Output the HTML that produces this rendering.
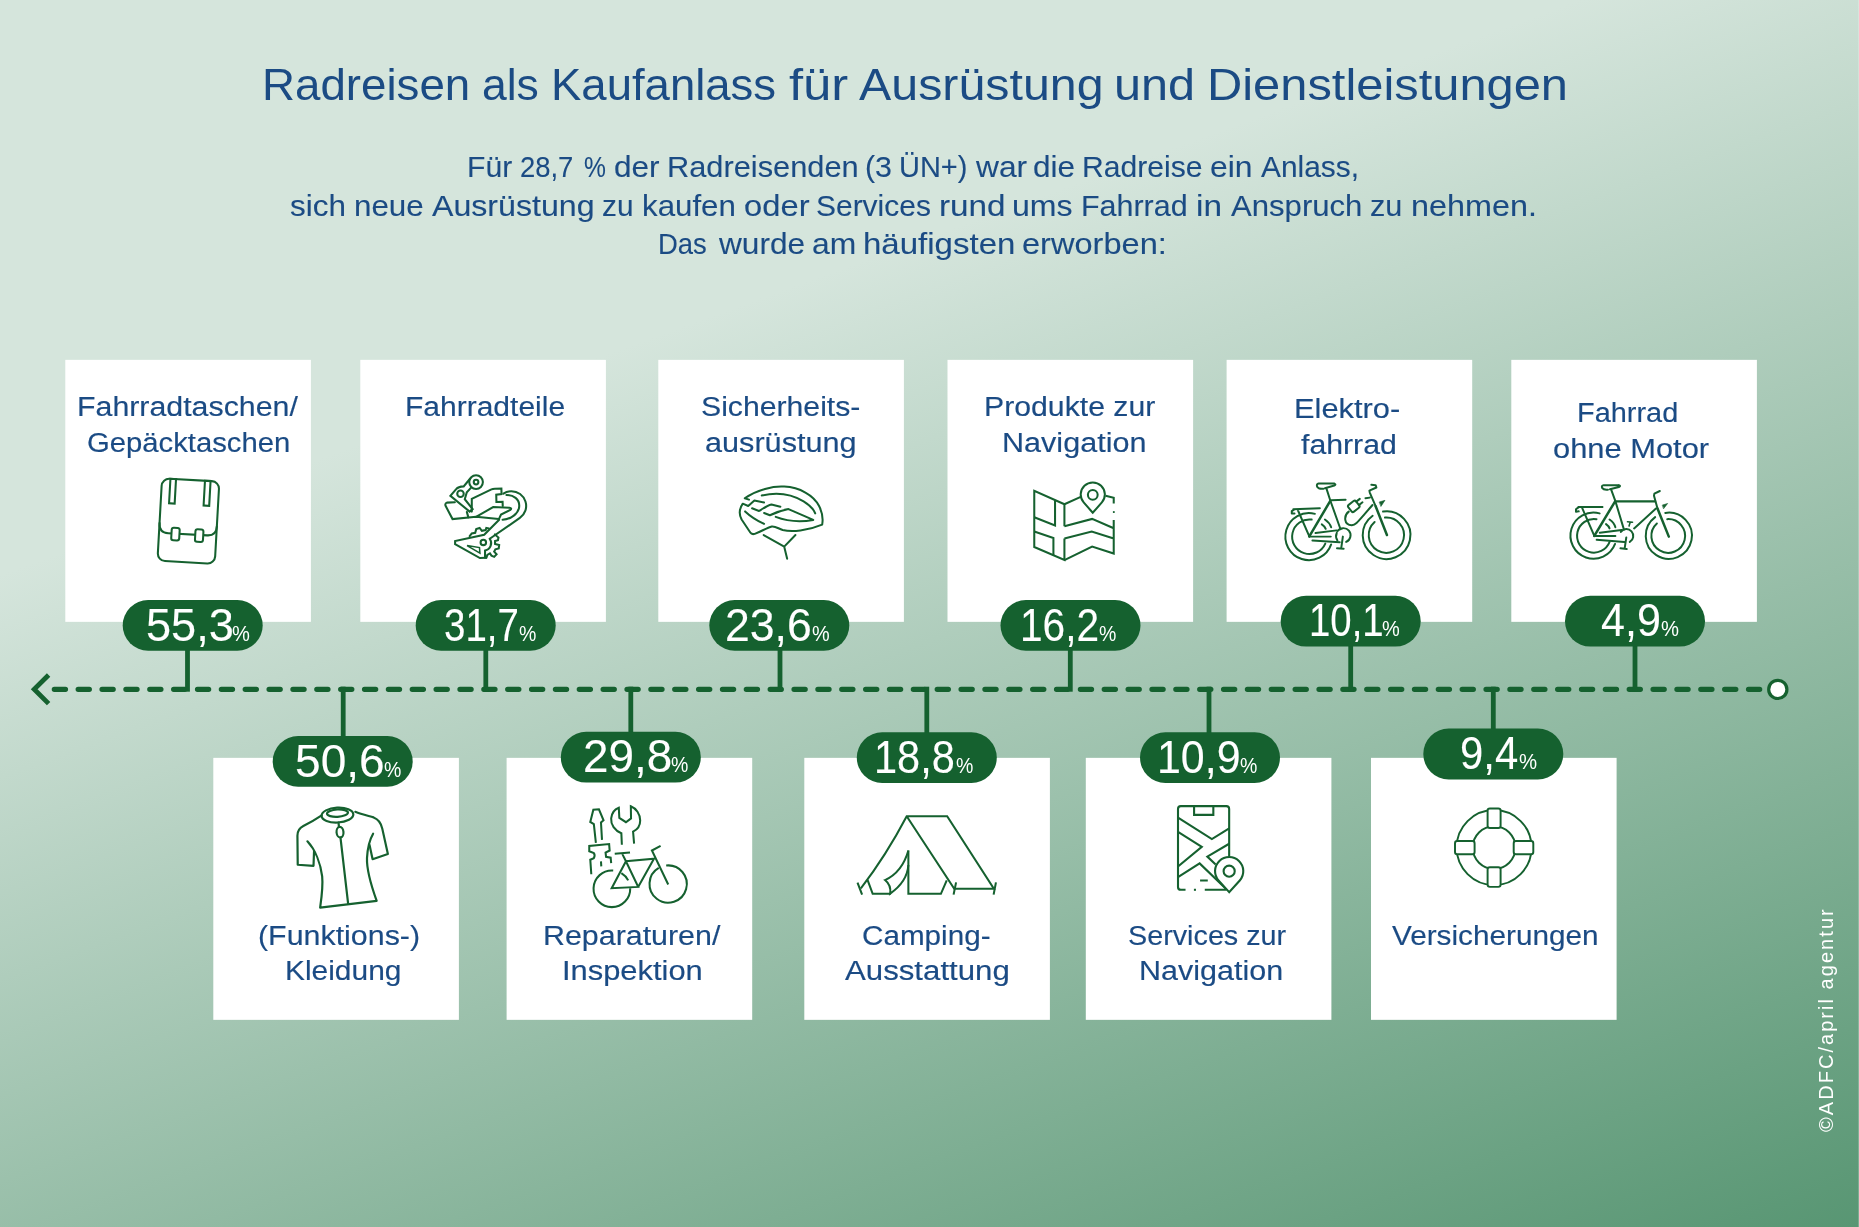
<!DOCTYPE html>
<html lang="de"><head><meta charset="utf-8"><title>Radreisen als Kaufanlass</title>
<style>
html,body{margin:0;padding:0}
body{width:1859px;height:1227px;overflow:hidden;position:relative;font-family:"Liberation Sans",sans-serif;background:#a9c8b7}
#bg{position:absolute;left:0;top:0;width:1859px;height:1227px;background:linear-gradient(160deg,#d5e5dc 0%,#d5e5dc 30.2%,#589673 100%)}
#w{position:absolute;left:0;top:0;width:1859px;height:1227px;will-change:transform}
.t{position:absolute;white-space:nowrap;line-height:1;transform-origin:0 0}
.c{position:absolute;background:#fff}
.ov{position:absolute;left:0;top:0}
.b{position:absolute;width:140px;height:51px;border-radius:25.5px;background:#15612f;color:#fff;text-align:center;white-space:nowrap;line-height:51px;box-sizing:border-box;padding-left:10px}
.b .n{font-size:44px;letter-spacing:-0.5px;position:relative;top:1px}
.b .p{font-size:19px;position:relative;top:1px;margin-left:1px}
.cr{position:absolute;transform-origin:0 0;transform:rotate(-90deg);color:#fff;white-space:nowrap;line-height:1}
.rs{position:absolute;left:1858px;top:0;width:1px;height:1227px;background:rgba(255,255,255,.22)}
</style></head>
<body>
<div id="bg"></div>
<div id="w">
<div class="t" style="left:262.24px;top:63.00px;font-size:44px;transform:scaleX(1.0384);color:#1b4b84;">Radreisen</div>
<div class="t" style="left:481.52px;top:63.00px;font-size:44px;transform:scaleX(1.0109);color:#1b4b84;">als</div>
<div class="t" style="left:550.96px;top:63.00px;font-size:44px;transform:scaleX(1.0341);color:#1b4b84;">Kaufanlass</div>
<div class="t" style="left:789.04px;top:63.00px;font-size:44px;transform:scaleX(1.1534);color:#1b4b84;">für</div>
<div class="t" style="left:859.30px;top:63.00px;font-size:44px;transform:scaleX(1.0988);color:#1b4b84;">Ausrüstung</div>
<div class="t" style="left:1114.44px;top:63.00px;font-size:44px;transform:scaleX(1.1045);color:#1b4b84;">und</div>
<div class="t" style="left:1207.19px;top:63.00px;font-size:44px;transform:scaleX(1.1097);color:#1b4b84;">Dienstleistungen</div>
<div class="t" style="left:466.99px;top:153.00px;font-size:29px;transform:scaleX(1.0394);color:#1b4b84;-webkit-text-stroke:0.1px #1b4b84;">Für</div>
<div class="t" style="left:520.33px;top:153.00px;font-size:29px;transform:scaleX(0.9457);color:#1b4b84;-webkit-text-stroke:0.1px #1b4b84;">28,7</div>
<div class="t" style="left:584.14px;top:153.00px;font-size:29px;transform:scaleX(0.8495);color:#1b4b84;-webkit-text-stroke:0.1px #1b4b84;">%</div>
<div class="t" style="left:614.04px;top:153.00px;font-size:29px;transform:scaleX(1.0880);color:#1b4b84;-webkit-text-stroke:0.1px #1b4b84;">der</div>
<div class="t" style="left:667.24px;top:153.00px;font-size:29px;transform:scaleX(1.0611);color:#1b4b84;-webkit-text-stroke:0.1px #1b4b84;">Radreisenden</div>
<div class="t" style="left:865.08px;top:153.00px;font-size:29px;transform:scaleX(1.0476);color:#1b4b84;-webkit-text-stroke:0.1px #1b4b84;">(3</div>
<div class="t" style="left:898.83px;top:153.00px;font-size:29px;transform:scaleX(0.9996);color:#1b4b84;-webkit-text-stroke:0.1px #1b4b84;">ÜN+)</div>
<div class="t" style="left:975.60px;top:153.00px;font-size:29px;transform:scaleX(1.0939);color:#1b4b84;-webkit-text-stroke:0.1px #1b4b84;">war</div>
<div class="t" style="left:1033.04px;top:153.00px;font-size:29px;transform:scaleX(1.0869);color:#1b4b84;-webkit-text-stroke:0.1px #1b4b84;">die</div>
<div class="t" style="left:1081.89px;top:153.00px;font-size:29px;transform:scaleX(1.0385);color:#1b4b84;-webkit-text-stroke:0.1px #1b4b84;">Radreise</div>
<div class="t" style="left:1209.83px;top:153.00px;font-size:29px;transform:scaleX(1.0990);color:#1b4b84;-webkit-text-stroke:0.1px #1b4b84;">ein</div>
<div class="t" style="left:1261.20px;top:153.00px;font-size:29px;transform:scaleX(1.0302);color:#1b4b84;-webkit-text-stroke:0.1px #1b4b84;">Anlass,</div>
<div class="t" style="left:290.26px;top:192.00px;font-size:29px;transform:scaleX(1.0837);color:#1b4b84;-webkit-text-stroke:0.1px #1b4b84;">sich</div>
<div class="t" style="left:353.56px;top:192.00px;font-size:29px;transform:scaleX(1.0809);color:#1b4b84;-webkit-text-stroke:0.1px #1b4b84;">neue</div>
<div class="t" style="left:432.00px;top:192.00px;font-size:29px;transform:scaleX(1.1080);color:#1b4b84;-webkit-text-stroke:0.1px #1b4b84;">Ausrüstung</div>
<div class="t" style="left:602.21px;top:192.00px;font-size:29px;transform:scaleX(1.0272);color:#1b4b84;-webkit-text-stroke:0.1px #1b4b84;">zu</div>
<div class="t" style="left:642.37px;top:192.00px;font-size:29px;transform:scaleX(1.0777);color:#1b4b84;-webkit-text-stroke:0.1px #1b4b84;">kaufen</div>
<div class="t" style="left:743.69px;top:192.00px;font-size:29px;transform:scaleX(1.1293);color:#1b4b84;-webkit-text-stroke:0.1px #1b4b84;">oder</div>
<div class="t" style="left:816.25px;top:192.00px;font-size:29px;transform:scaleX(1.0331);color:#1b4b84;-webkit-text-stroke:0.1px #1b4b84;">Services</div>
<div class="t" style="left:938.54px;top:192.00px;font-size:29px;transform:scaleX(1.1470);color:#1b4b84;-webkit-text-stroke:0.1px #1b4b84;">rund</div>
<div class="t" style="left:1012.22px;top:192.00px;font-size:29px;transform:scaleX(1.1058);color:#1b4b84;-webkit-text-stroke:0.1px #1b4b84;">ums</div>
<div class="t" style="left:1081.37px;top:192.00px;font-size:29px;transform:scaleX(1.0494);color:#1b4b84;-webkit-text-stroke:0.1px #1b4b84;">Fahrrad</div>
<div class="t" style="left:1196.33px;top:192.00px;font-size:29px;transform:scaleX(1.1494);color:#1b4b84;-webkit-text-stroke:0.1px #1b4b84;">in</div>
<div class="t" style="left:1230.90px;top:192.00px;font-size:29px;transform:scaleX(1.0726);color:#1b4b84;-webkit-text-stroke:0.1px #1b4b84;">Anspruch</div>
<div class="t" style="left:1370.47px;top:192.00px;font-size:29px;transform:scaleX(1.0563);color:#1b4b84;-webkit-text-stroke:0.1px #1b4b84;">zu</div>
<div class="t" style="left:1410.60px;top:192.00px;font-size:29px;transform:scaleX(1.1153);color:#1b4b84;-webkit-text-stroke:0.1px #1b4b84;">nehmen.</div>
<div class="t" style="left:658.10px;top:230.00px;font-size:29px;transform:scaleX(0.9465);color:#1b4b84;-webkit-text-stroke:0.1px #1b4b84;">Das</div>
<div class="t" style="left:719.00px;top:230.00px;font-size:29px;transform:scaleX(1.0898);color:#1b4b84;-webkit-text-stroke:0.1px #1b4b84;">wurde</div>
<div class="t" style="left:812.03px;top:230.00px;font-size:29px;transform:scaleX(1.0975);color:#1b4b84;-webkit-text-stroke:0.1px #1b4b84;">am</div>
<div class="t" style="left:863.29px;top:230.00px;font-size:29px;transform:scaleX(1.1384);color:#1b4b84;-webkit-text-stroke:0.1px #1b4b84;">häufigsten</div>
<div class="t" style="left:1021.80px;top:230.00px;font-size:29px;transform:scaleX(1.1228);color:#1b4b84;-webkit-text-stroke:0.1px #1b4b84;">erworben:</div>
<svg class="ov" width="1859" height="1227" viewBox="0 0 1859 1227">
<rect x="65.3" y="359.85" width="245.6" height="262" fill="#fff"/>
<rect x="360.3" y="359.85" width="245.6" height="262" fill="#fff"/>
<rect x="658.3" y="359.85" width="245.6" height="262" fill="#fff"/>
<rect x="947.5" y="359.85" width="245.6" height="262" fill="#fff"/>
<rect x="1226.6" y="359.85" width="245.6" height="262" fill="#fff"/>
<rect x="1511.3" y="359.85" width="245.6" height="262" fill="#fff"/>
<rect x="213.3" y="757.85" width="245.6" height="262" fill="#fff"/>
<rect x="506.6" y="757.85" width="245.6" height="262" fill="#fff"/>
<rect x="804.3" y="757.85" width="245.6" height="262" fill="#fff"/>
<rect x="1085.8" y="757.85" width="245.6" height="262" fill="#fff"/>
<rect x="1371" y="757.85" width="245.6" height="262" fill="#fff"/>
<g stroke="#15612f" fill="none">
<path d="M54.3 689.35H1761" stroke-width="5.2" stroke-linecap="round" stroke-dasharray="11.2 12.662"/>
<path d="M48.6 675L34.2 689.3L48.6 703.6" stroke-width="4.8" stroke-linejoin="miter"/>
<path d="M187.5 650V691.7" stroke-width="4.8"/>
<path d="M485.8 650V691.7" stroke-width="4.8"/>
<path d="M780 650V691.7" stroke-width="4.8"/>
<path d="M1070.3 650V691.7" stroke-width="4.8"/>
<path d="M1350.7 646V691.7" stroke-width="4.8"/>
<path d="M1635 646V691.7" stroke-width="4.8"/>
<path d="M343.2 686.7V737" stroke-width="4.8"/>
<path d="M630.8 686.7V733" stroke-width="4.8"/>
<path d="M926.8 686.7V733" stroke-width="4.8"/>
<path d="M1209 686.7V733" stroke-width="4.8"/>
<path d="M1493.3 686.7V730" stroke-width="4.8"/>
<circle cx="1777.8" cy="689.4" r="9.1" fill="#fff" stroke-width="3.2"/>
</g>
<rect x="122.7" y="600" width="140" height="50.8" rx="25.4" fill="#15612f"/>
<rect x="415.7" y="600" width="140" height="50.8" rx="25.4" fill="#15612f"/>
<rect x="709.3" y="600" width="140" height="50.8" rx="25.4" fill="#15612f"/>
<rect x="1000.5" y="600" width="140" height="50.8" rx="25.4" fill="#15612f"/>
<rect x="1280.7" y="595.8" width="140" height="50.8" rx="25.4" fill="#15612f"/>
<rect x="1565" y="595.8" width="140" height="50.8" rx="25.4" fill="#15612f"/>
<rect x="272.7" y="736" width="140" height="50.8" rx="25.4" fill="#15612f"/>
<rect x="560.8" y="731.8" width="140" height="50.8" rx="25.4" fill="#15612f"/>
<rect x="856.8" y="732.2" width="140" height="50.8" rx="25.4" fill="#15612f"/>
<rect x="1140" y="732.2" width="140" height="50.8" rx="25.4" fill="#15612f"/>
<rect x="1423.3" y="728.6" width="140" height="50.8" rx="25.4" fill="#15612f"/>
</svg>
<div class="t" style="left:77.07px;top:394.00px;font-size:27px;transform:scaleX(1.1232);color:#1b4b84;-webkit-text-stroke:0.15px #1b4b84;">Fahrradtaschen/</div>
<div class="t" style="left:86.84px;top:430.00px;font-size:27px;transform:scaleX(1.0837);color:#1b4b84;-webkit-text-stroke:0.15px #1b4b84;">Gepäcktaschen</div>
<div class="t" style="left:405.30px;top:394.00px;font-size:27px;transform:scaleX(1.1111);color:#1b4b84;-webkit-text-stroke:0.15px #1b4b84;">Fahrradteile</div>
<div class="t" style="left:700.94px;top:394.00px;font-size:27px;transform:scaleX(1.1182);color:#1b4b84;-webkit-text-stroke:0.15px #1b4b84;">Sicherheits-</div>
<div class="t" style="left:705.47px;top:430.00px;font-size:27px;transform:scaleX(1.1348);color:#1b4b84;-webkit-text-stroke:0.15px #1b4b84;">ausrüstung</div>
<div class="t" style="left:984.28px;top:394.00px;font-size:27px;transform:scaleX(1.1191);color:#1b4b84;-webkit-text-stroke:0.15px #1b4b84;">Produkte zur</div>
<div class="t" style="left:1001.55px;top:430.00px;font-size:27px;transform:scaleX(1.1321);color:#1b4b84;-webkit-text-stroke:0.15px #1b4b84;">Navigation</div>
<div class="t" style="left:1294.23px;top:396.00px;font-size:27px;transform:scaleX(1.1412);color:#1b4b84;-webkit-text-stroke:0.15px #1b4b84;">Elektro-</div>
<div class="t" style="left:1300.55px;top:432.00px;font-size:27px;transform:scaleX(1.1201);color:#1b4b84;-webkit-text-stroke:0.15px #1b4b84;">fahrrad</div>
<div class="t" style="left:1576.69px;top:400.00px;font-size:27px;transform:scaleX(1.0708);color:#1b4b84;-webkit-text-stroke:0.15px #1b4b84;">Fahrrad</div>
<div class="t" style="left:1552.77px;top:436.00px;font-size:27px;transform:scaleX(1.1430);color:#1b4b84;-webkit-text-stroke:0.15px #1b4b84;">ohne Motor</div>
<div class="t" style="left:258.18px;top:923.00px;font-size:27px;transform:scaleX(1.1253);color:#1b4b84;-webkit-text-stroke:0.15px #1b4b84;">(Funktions-)</div>
<div class="t" style="left:284.91px;top:958.00px;font-size:27px;transform:scaleX(1.1076);color:#1b4b84;-webkit-text-stroke:0.15px #1b4b84;">Kleidung</div>
<div class="t" style="left:542.57px;top:923.00px;font-size:27px;transform:scaleX(1.1253);color:#1b4b84;-webkit-text-stroke:0.15px #1b4b84;">Reparaturen/</div>
<div class="t" style="left:562.22px;top:958.00px;font-size:27px;transform:scaleX(1.1435);color:#1b4b84;-webkit-text-stroke:0.15px #1b4b84;">Inspektion</div>
<div class="t" style="left:861.82px;top:923.00px;font-size:27px;transform:scaleX(1.0980);color:#1b4b84;-webkit-text-stroke:0.15px #1b4b84;">Camping-</div>
<div class="t" style="left:845.00px;top:958.00px;font-size:27px;transform:scaleX(1.1555);color:#1b4b84;-webkit-text-stroke:0.15px #1b4b84;">Ausstattung</div>
<div class="t" style="left:1128.01px;top:923.00px;font-size:27px;transform:scaleX(1.0648);color:#1b4b84;-webkit-text-stroke:0.15px #1b4b84;">Services zur</div>
<div class="t" style="left:1138.56px;top:958.00px;font-size:27px;transform:scaleX(1.1297);color:#1b4b84;-webkit-text-stroke:0.15px #1b4b84;">Navigation</div>
<div class="t" style="left:1391.55px;top:923.00px;font-size:27px;transform:scaleX(1.1009);color:#1b4b84;-webkit-text-stroke:0.15px #1b4b84;">Versicherungen</div>
<div class="t" style="left:145.69px;top:602.00px;font-size:46px;transform:scaleX(0.9815);color:#fff;-webkit-text-stroke:0.1px #fff;">55,3</div>
<div class="t" style="left:232.00px;top:624.00px;font-size:21.5px;transform:scaleX(0.9359);color:#fff;">%</div>
<div class="t" style="left:444.46px;top:602.00px;font-size:46px;transform:scaleX(0.8356);color:#fff;-webkit-text-stroke:0.1px #fff;">31,7</div>
<div class="t" style="left:519.32px;top:624.00px;font-size:21.5px;transform:scaleX(0.9075);color:#fff;">%</div>
<div class="t" style="left:725.07px;top:602.00px;font-size:46px;transform:scaleX(0.9692);color:#fff;-webkit-text-stroke:0.1px #fff;">23,6</div>
<div class="t" style="left:812.00px;top:624.00px;font-size:21.5px;transform:scaleX(0.9246);color:#fff;">%</div>
<div class="t" style="left:1020.25px;top:602.00px;font-size:46px;transform:scaleX(0.8839);color:#fff;-webkit-text-stroke:0.1px #fff;">16,2</div>
<div class="t" style="left:1099.32px;top:624.00px;font-size:21.5px;transform:scaleX(0.9075);color:#fff;">%</div>
<div class="t" style="left:1308.82px;top:597.00px;font-size:46px;transform:scaleX(0.8338);color:#fff;-webkit-text-stroke:0.1px #fff;">10,1</div>
<div class="t" style="left:1382.20px;top:619.00px;font-size:21.5px;transform:scaleX(0.9302);color:#fff;">%</div>
<div class="t" style="left:1601.44px;top:597.00px;font-size:46px;transform:scaleX(0.9352);color:#fff;-webkit-text-stroke:0.1px #fff;">4,9</div>
<div class="t" style="left:1660.99px;top:619.00px;font-size:21.5px;transform:scaleX(0.9416);color:#fff;">%</div>
<div class="t" style="left:294.86px;top:738.00px;font-size:46px;transform:scaleX(1.0024);color:#fff;-webkit-text-stroke:0.1px #fff;">50,6</div>
<div class="t" style="left:384.32px;top:760.00px;font-size:21.5px;transform:scaleX(0.9075);color:#fff;">%</div>
<div class="t" style="left:582.71px;top:733.00px;font-size:46px;transform:scaleX(0.9961);color:#fff;-webkit-text-stroke:0.1px #fff;">29,8</div>
<div class="t" style="left:671.02px;top:755.00px;font-size:21.5px;transform:scaleX(0.9075);color:#fff;">%</div>
<div class="t" style="left:874.19px;top:734.00px;font-size:46px;transform:scaleX(0.9028);color:#fff;-webkit-text-stroke:0.1px #fff;">18,8</div>
<div class="t" style="left:956.02px;top:756.00px;font-size:21.5px;transform:scaleX(0.9075);color:#fff;">%</div>
<div class="t" style="left:1156.78px;top:734.00px;font-size:46px;transform:scaleX(0.9327);color:#fff;-webkit-text-stroke:0.1px #fff;">10,9</div>
<div class="t" style="left:1240.02px;top:756.00px;font-size:21.5px;transform:scaleX(0.9075);color:#fff;">%</div>
<div class="t" style="left:1459.82px;top:730.00px;font-size:46px;transform:scaleX(0.9092);color:#fff;-webkit-text-stroke:0.1px #fff;">9,4</div>
<div class="t" style="left:1518.59px;top:752.00px;font-size:21.5px;transform:scaleX(0.9472);color:#fff;">%</div>
<div class="cr" style="left:1816.3px;top:1131.80px;font-size:20px;letter-spacing:2.044px">©ADFC/april agentur</div>
<div class="rs"></div>
<svg class="ov" width="1859" height="1227" viewBox="0 0 1859 1227" fill="none" stroke="#15612f" stroke-linecap="round" stroke-linejoin="round">
<!-- pannier bag -->
<g transform="translate(188.4 521.1) rotate(3.2)" stroke-width="2.05">
<rect x="-28.7" y="-41.2" width="57.4" height="82.4" rx="7.5"/>
<rect x="-20.3" y="-41.2" width="5.6" height="24.5" stroke-linejoin="miter"/>
<rect x="14.3" y="-41.2" width="5.6" height="24.8" stroke-linejoin="miter"/>
<path d="M-28.7 3.5Q-28.7 13.2 -19.5 13.2H19.5Q28.7 13.2 28.7 3.5"/>
<rect x="-16.2" y="7.4" width="8" height="12.6" rx="2.2" fill="#fff"/>
<rect x="7.6" y="7.6" width="8" height="12.6" rx="2.2" fill="#fff"/>
</g>
<!-- helmet -->
<g transform="translate(730 475) scale(0.07746)" stroke-width="26">
<path d="M245 318L190 300C350 190 560 140 700 150C900 160 1080 260 1150 400C1190 480 1203 570 1190 640C1000 720 800 740 680 710C620 690 590 660 540 665C480 680 400 730 320 760Q280 772 262 742L150 575C110 500 130 420 165 370L235 400L315 330L440 355"/>
<path d="M410 265C600 220 800 250 950 340C1030 390 1080 440 1100 495"/>
<path d="M285 430L375 465C430 430 480 395 535 380L650 410"/>
<path d="M440 490L515 520C600 480 680 455 755 440L1075 580C900 610 720 590 590 540"/>
<path d="M195 470C270 540 350 590 440 630"/>
<path d="M435 775L700 925L845 775M700 925L738 1080"/>
</g>
<!-- map -->
<g transform="translate(1020 470) scale(0.0815)" stroke-width="25" stroke-linejoin="miter" stroke-linecap="butt">
<path d="M545 690V420L175 255V945L545 1105V840"/>
<path d="M430 370V680L175 580M175 755L410 835V1045"/>
<path d="M545 420L745 330M1050 315L1150 342V412M1150 612V1025L885 940L545 1105M545 690L885 600L1150 715M545 840L880 755L1150 840"/>
<rect x="1140" y="505" width="22" height="22" fill="#15612f" stroke="none"/>
<path d="M893 525L781.5 397.4A148 148 0 1 1 1004.5 397.4Z"/>
<circle cx="893" cy="305" r="60"/>
</g>
<!-- lifebuoy -->
<g transform="translate(1494.1 847.6)" stroke-width="1.95">
<circle r="37.5"/><circle r="21.4"/>
<rect x="-6.5" y="-39.1" width="13" height="19.6" rx="2.3" fill="#fff"/>
<rect x="-6.5" y="19.7" width="13" height="19.6" rx="2.3" fill="#fff"/>
<rect x="-39.1" y="-6.5" width="19.6" height="13.2" rx="2.3" fill="#fff"/>
<rect x="19.6" y="-6.5" width="19.6" height="13.2" rx="2.3" fill="#fff"/>
</g>
<!-- tent -->
<g transform="translate(850 805) scale(0.0834)" stroke-width="24.5" stroke-linejoin="miter" stroke-linecap="butt">
<path d="M130 1000C330 740 520 440 680 135H1165L1725 1005H1250L680 135"/>
<path d="M90 930L145 1075M1272 928L1242 1075M1750 928L1722 1075"/>
<path d="M210 898L272 1065H490M1160 903L1090 1065H700V545"/>
<path d="M700 545C650 720 550 840 420 900C470 940 490 1000 482 1062C600 980 690 860 700 720"/>
</g>
<!-- phone -->
<g transform="translate(1165 795) scale(0.08555)" stroke-width="24.5" stroke-linejoin="miter" stroke-linecap="butt">
<path d="M240 1108H185Q152 1108 152 1075V163Q152 130 185 130H717Q750 130 750 163V718M465 1108H720"/>
<rect x="338" y="1096" width="24" height="24" fill="#15612f" stroke="none"/>
<path d="M340 130V232H565V130"/>
<path d="M152 265L548 515L750 390M152 430L430 605L152 835M152 960L405 800L715 1100M750 570L495 720L592 812M410 1000H500"/>
<path d="M750 1135L626 999A165 165 0 1 1 874 999Z" fill="#fff"/>
<circle cx="750" cy="890" r="65"/>
</g>
</svg>
<svg class="ov" width="1859" height="1227" viewBox="0 0 1859 1227" fill="none" stroke="#15612f" stroke-linecap="round" stroke-linejoin="round">
<!-- derailleur -->
<g transform="translate(435 465) scale(0.08554)" stroke-width="24" stroke-linejoin="miter">
<circle cx="480" cy="200" r="80"/><circle cx="480" cy="200" r="27"/>
<circle cx="298" cy="335" r="38"/>
<path d="M412 158L335 250Q270 255 250 280L180 360L405 545L440 515L348 400L372 318L425 262"/>
<path d="M232 435L140 440Q112 452 125 480L205 632L480 606L745 632"/>
<path d="M372 548L390 612"/>
<path d="M430 545V395L660 285Q675 278 700 277L776 275L778 340L716 348L718 432L790 430L792 480"/>
<path d="M480 606L680 492L870 500Q905 506 880 526L772 580L748 630"/>
<path d="M800 335Q840 306 893 306A172 172 0 0 1 992 619L640 862"/>
<path d="M835 350C920 350 985 400 985 475C985 570 880 635 790 640"/>
<path d="M750 640L575 815L235 888V925L525 1088L598 1085"/>
<path d="M405 832L430 800L470 792L482 750L522 736L548 770L592 760L600 735L630 742"/>
<circle cx="565" cy="905" r="32"/>
<path d="M640 862A88 88 0 0 1 585 1000V1085"/>
<path d="M700 812L742 848L736 880L702 890L702 922L750 936L745 975L706 986L692 1012L720 1044L692 1074L660 1060L642 1032L612 1050L600 1085"/>
<path d="M375 942L520 965L525 1030Z" stroke-width="18"/>
</g>
<!-- e-bike -->
<g transform="translate(1275 475) scale(0.078)" stroke-width="25.5">
<path d="M720 890A302 302 0 1 1 512 498"/>
<path d="M645 880A222 222 0 1 1 470 571"/>
<path d="M1385 468A306 306 0 1 1 1252 522"/>
<path d="M1410 546A226 226 0 1 1 1277 603"/>
<path d="M760 110H560Q528 115 540 150Q560 182 620 176M640 170L760 135Q790 120 760 110"/>
<path d="M660 175L710 330L840 695M715 325L905 318"/>
<path d="M705 338L440 788" stroke-width="32"/>
<path d="M440 790H715M520 745L790 710M480 840L830 862"/>
<path d="M235 440L575 425M250 440L215 462V495L250 493M295 455L440 788"/>
<path d="M945 470C880 520 880 640 985 645C1040 640 1060 600 1250 385"/>
<g transform="translate(1010 402) rotate(-38)"><rect x="-62" y="-55" width="124" height="110" rx="22"/><path d="M62 -28H120M62 28H120"/></g>
<path d="M1235 125L1290 130L1300 160L1210 200L1215 225L1290 400M1160 297L1215 290"/>
<path d="M1290 400L1435 770" stroke-width="32"/>
<path d="M1340 345L1410 325L1360 400Z" fill="#15612f" stroke-width="8"/>
<path d="M800 722A92 92 0 1 1 912 858M792 742Q770 790 800 840"/>
<path d="M870 790L850 930M795 940L880 946"/>
<path d="M640 570Q700 610 720 670M600 632Q635 655 650 690"/>
</g>
<!-- bike -->
<g transform="translate(1560 475) scale(0.078)" stroke-width="25.5">
<path d="M706 884A296 296 0 1 1 508 492"/>
<path d="M636 858A216 216 0 1 1 468 566"/>
<path d="M1350 486A296 296 0 1 1 1220 540"/>
<path d="M1375 566A216 216 0 1 1 1242 622"/>
<path d="M755 130H560Q528 135 540 165Q560 195 615 188M640 182L755 155Q785 140 755 130"/>
<path d="M655 185L710 335L820 700"/>
<path d="M710 338H1220" stroke-width="28"/>
<path d="M705 340L440 780" stroke-width="32"/>
<path d="M440 782H710M510 740L790 705M470 830L825 860"/>
<path d="M235 410H545M240 412L205 440V470L240 466M285 425L440 780"/>
<path d="M1230 430L950 685"/>
<path d="M1280 205L1210 240L1205 265L1250 430"/>
<path d="M1250 430L1395 790" stroke-width="32"/>
<path d="M1315 385L1380 365L1330 430Z" fill="#15612f" stroke-width="8"/>
<path d="M865 600L930 605M900 605L885 655" stroke-width="20"/>
<path d="M780 730A88 88 0 1 1 895 858"/>
<path d="M850 800L830 935M775 940L855 950"/>
<path d="M635 570Q695 610 710 670M590 630Q625 655 635 685"/>
</g>
<!-- jersey -->
<g transform="translate(285 795) scale(0.10186)" stroke-width="21.5">
<path d="M285 555L280 695L125 685L122 400C122 360 140 325 180 305C230 280 300 240 360 200"/>
<path d="M220 455C300 540 350 680 365 800C375 900 360 1000 345 1105L900 1040C850 900 800 750 805 620C810 520 830 440 865 380"/>
<path d="M690 165C750 190 820 205 870 220C920 240 945 280 955 330L1010 580L860 630L830 490"/>
<ellipse cx="515" cy="197" rx="156" ry="73" transform="rotate(-3 515 197)"/>
<ellipse cx="515" cy="178" rx="103" ry="36" transform="rotate(-3 515 178)"/>
<path d="M525 270L530 312M545 420L620 1070"/>
<ellipse cx="540" cy="365" rx="34" ry="52" transform="rotate(-5 540 365)"/>
</g>
<!-- tools + bike -->
<g transform="translate(575 795) scale(0.10188)" stroke-width="20" stroke-linejoin="miter" stroke-linecap="butt">
<path d="M205 470L185 285L150 265L180 145L235 140L280 248L255 270L265 440"/>
<path d="M160 778L150 635L185 620Q200 590 185 570L140 552V500L335 482L340 545L300 565L305 607L350 615L355 668M255 652L258 700"/>
<path d="M460 488L455 375C390 350 350 290 355 230C360 180 390 140 430 125L435 225L500 267L550 230L548 110C600 130 640 190 640 250C640 300 610 340 570 360L580 478"/>
<path d="M375 741A180 180 0 1 0 542 915"/>
<path d="M455 767A180 180 0 0 1 522 838"/>
<path d="M895 692A183 183 0 1 1 822 716"/>
<path d="M390 577L540 565M465 580L500 650L620 902L360 915L500 650L775 625L620 902M840 500L755 545L915 878"/>
</g>
</svg>

</div>
</body></html>
